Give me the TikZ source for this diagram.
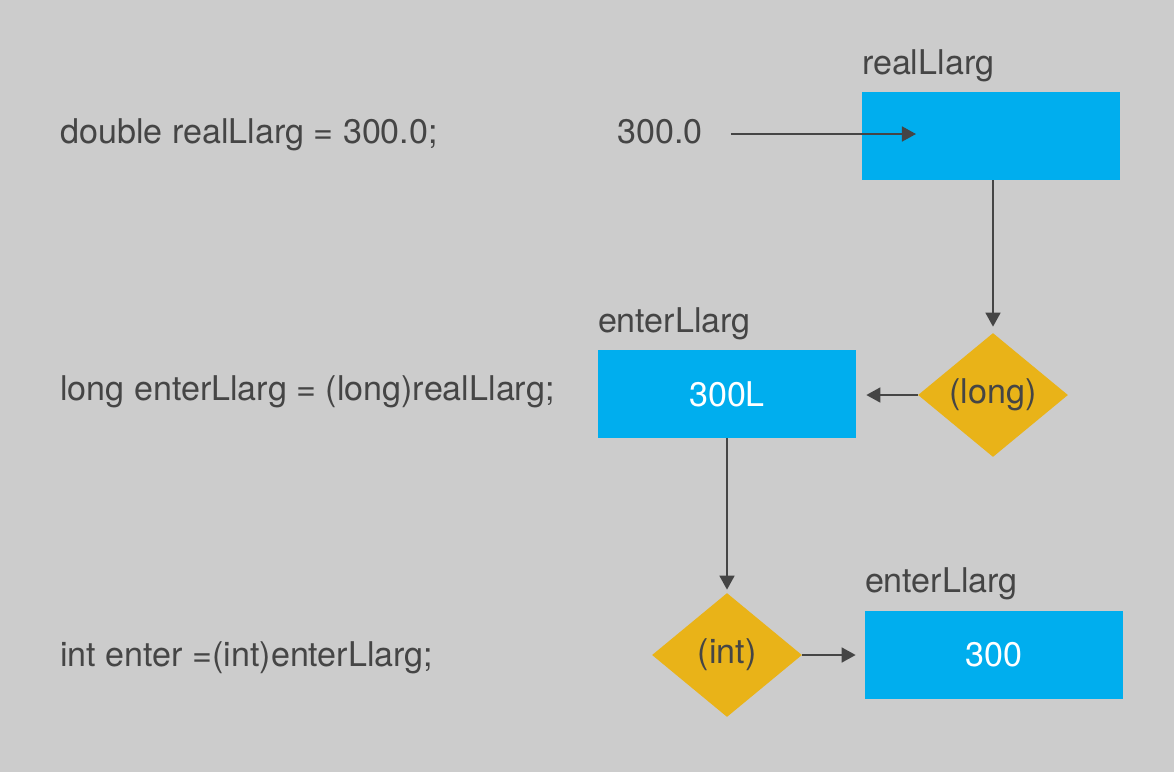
\documentclass[tikz,border=0pt]{standalone}
\usepackage{fontspec}
\setmainfont{TeX Gyre Heros}
\usepackage{tikz}
\usepackage{xcolor}
\usetikzlibrary{positioning,shapes.geometric,arrows.meta}

\definecolor{bggray}{HTML}{CCCCCC}
\definecolor{varblue}{HTML}{00AEEE}
\definecolor{castgold}{HTML}{E9B318}
\definecolor{inkgray}{HTML}{454545}

\tikzset{
  code/.style={anchor=mid west,inner sep=0pt,text=inkgray,font=\fontsize{19.4}{23}\selectfont},
  varbox/.style={rectangle,fill=varblue,minimum width=5.16cm,minimum height=1.76cm,
    inner sep=0pt,text=white,font=\fontsize{19.4}{23}\selectfont},
  castbox/.style={diamond,fill=castgold,minimum width=3cm,minimum height=2.48cm,
    inner sep=0pt,text=inkgray,font=\fontsize{19.4}{23}\selectfont},
  arr/.style={draw=inkgray,line width=1.1pt,-{Triangle[length=8pt,width=8.5pt]}}
}

\begin{document}
\begin{tikzpicture}[x=0.02cm,y=-0.02cm]

    \fill[bggray] (0,0) rectangle (1174,772);

    % the three lines of code
    \node[code] (line1) at (60,139) {double realLlarg = 300.0;};
    \node[code] (line2) at (60,396) {long enterLlarg = (long)realLlarg;};
    \node[code] (line3) at (60,662) {int enter =(int)enterLlarg;};

    % variables and casts
    \node[code] (val) at (617,139) {300.0};
    \node[varbox] (real) at (991,136) {};
    \node[castbox] (long) at (993,395) {(long)};
    \node[varbox] (enterl) at (727,394) {300L};
    \node[castbox] (int) at (727,655) {(int)};
    \node[varbox] (enter) at (994,655) {300};

    \node[code] (lreal) at ([yshift=0.44cm]real.north west) {realLlarg};
    \node[code] (lenterl) at ([yshift=0.44cm]enterl.north west) {enterLlarg};
    \node[code] (lenter) at ([yshift=0.46cm]enter.north west) {enterLlarg};

    \coordinate (in) at (916,134);

    \draw[arr] ([xshift=0.56cm]val.east |- in) -- (in);
    \draw[arr,shorten >=0.12cm] (real.south-|long.north) -- (long.north);
    \draw[arr,shorten >=0.2cm] (long.west) -- (long.west-|enterl.east);
    \draw[arr,shorten >=0.06cm] (enterl.south) -- (int.north);
    \draw[arr,shorten >=0.18cm] (int.east) -- (enter.west|-int.east);
  \end{tikzpicture}
\end{document}
